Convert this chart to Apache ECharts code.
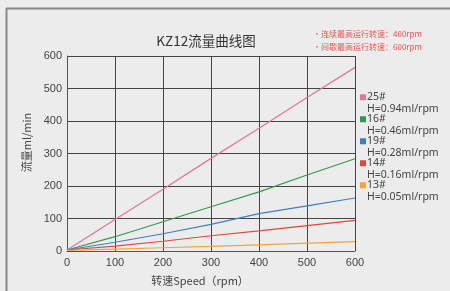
<!DOCTYPE html>
<html>
<head>
<meta charset="utf-8">
<script src="https://cdn.jsdelivr.net/npm/echarts@6/dist/echarts.min.js"></script>
<style>
  html, body { margin: 0; padding: 0; background: #ececec; }
  #chart { width: 450px; height: 291px; }
</style>
</head>
<body>
<div id="chart"></div>
<script>
// speed (rpm)
var speeds = [0, 100, 200, 300, 400, 500, 600]
// flow ml/min
var pump25 = [3, 97, 190, 285, 378, 472, 565]
var pump16 = [3, 44, 90, 136, 182, 234, 284]
var pump19 = [3, 27, 53, 82, 115, 139, 163]
var pump14 = [3, 15, 30, 47, 62, 78, 94]
var pump13 = [2, 6, 10, 14, 19, 24, 29]
var legendNames = ['25#\nH=0.94ml/rpm', '16#\nH=0.46ml/rpm', '19#\nH=0.28ml/rpm', '14#\nH=0.16ml/rpm', '13#\nH=0.05ml/rpm']
var colors = ['#e5739a', '#2f9a4f', '#3f7fc0', '#e0493a', '#f6a33a']

function pairs(vals) {
  return speeds.map(function(s, i) { return [s, vals[i]] })
}

var chart = echarts.init(document.getElementById('chart'))
var allData = [pump25, pump16, pump19, pump14, pump13]

chart.setOption({
  backgroundColor: '#ececec',
  animation: false,
  title: {
    text: 'KZ12流量曲线图',
    left: 201,
    top: 29,
    textAlign: 'center',
    textStyle: { fontSize: 13.5, fontWeight: 'normal', color: '#333', fontFamily: 'Noto Sans CJK SC' }
  },
  graphic: [
    { type: 'line', shape: { x1: 6.5, y1: 8, x2: 6.5, y2: 291 }, style: { stroke: '#888', lineWidth: 2 } },
    { type: 'line', shape: { x1: 6, y1: 8.5, x2: 450, y2: 8.5 }, style: { stroke: '#888', lineWidth: 2 } },
    { type: 'text', left: 313, top: 30, style: { text: '•连续最高运行转速：400rpm', fill: '#ee5050', fontSize: 8, fontFamily: 'Noto Sans CJK SC' } },
    { type: 'text', left: 313, top: 43, style: { text: '•间歇最高运行转速：600rpm', fill: '#ee5050', fontSize: 8, fontFamily: 'Noto Sans CJK SC' } }
  ],
  grid: { left: 67, right: 95, top: 56, bottom: 40 },
  legend: {
    orient: 'vertical',
    left: 360,
    top: 80,
    padding: 0,
    itemWidth: 6,
    itemHeight: 6,
    itemGap: -12.5,
    icon: 'rect',
    data: legendNames,
    formatter: function(name) { return '\n' + name },
    textStyle: { fontSize: 10.5, color: '#444', lineHeight: 11.5, padding: [0, 0, 0, -4], fontFamily: 'Noto Sans' }
  },
  xAxis: {
    type: 'value',
    min: 0,
    max: 600,
    interval: 100,
    name: '转速Speed（rpm）',
    nameLocation: 'middle',
    nameGap: 24,
    nameTextStyle: { fontSize: 11, color: '#444', fontFamily: 'Noto Sans CJK SC', padding: [0, 22, 0, 0] },
    axisLine: { lineStyle: { color: '#555' } },
    axisTick: { show: false },
    axisLabel: { fontSize: 11, color: '#444', margin: 6 },
    splitLine: { show: true, lineStyle: { color: '#444', width: 1 } }
  },
  yAxis: {
    type: 'value',
    min: 0,
    max: 600,
    interval: 100,
    name: '流量ml/min',
    nameLocation: 'middle',
    nameGap: 35,
    nameTextStyle: { fontSize: 11, color: '#444', fontFamily: 'Noto Sans CJK SC', padding: [0, 0, 0, 22] },
    axisLine: { show: true, lineStyle: { color: '#555' } },
    axisTick: { show: false },
    axisLabel: { fontSize: 11, color: '#444', margin: 5 },
    splitLine: { show: true, lineStyle: { color: '#444', width: 1 } }
  },
  series: legendNames.map(function(n, i) {
    return {
      name: n,
      type: 'line',
      data: pairs(allData[i]),
      symbol: 'none',
      itemStyle: { color: colors[i] },
      lineStyle: { color: colors[i], width: 1.2 }
    }
  })
})
</script>
</body>
</html>
